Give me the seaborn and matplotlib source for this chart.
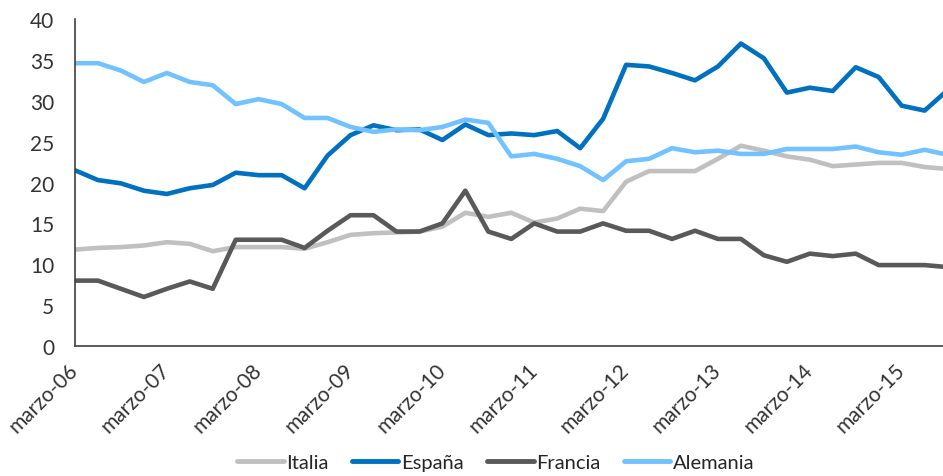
import numpy as np
import pandas as pd
import seaborn as sns
import matplotlib.pyplot as plt

# quarterly series, marzo-06 onwards (last point falls just past the right edge)
italia = [11.8, 12.0, 12.1, 12.3, 12.7, 12.5, 11.6, 12.1, 12.1, 12.1,
          11.9, 12.7, 13.6, 13.8, 13.9, 14.0, 14.6, 16.3, 15.8, 16.3,
          15.1, 15.6, 16.8, 16.5, 20.1, 21.4, 21.4, 21.4, 22.9, 24.5,
          23.9, 23.2, 22.8, 22.0, 22.2, 22.4, 22.4, 21.9, 21.65]
espana = [21.5, 20.3, 19.9, 19.0, 18.6, 19.3, 19.7, 21.2, 20.9, 20.9,
          19.3, 23.3, 25.8, 27.0, 26.4, 26.5, 25.2, 27.1, 25.8, 26.0,
          25.8, 26.3, 24.2, 27.8, 34.4, 34.2, 33.4, 32.5, 34.2, 37.0,
          35.2, 31.0, 31.6, 31.2, 34.1, 32.9, 29.4, 28.8, 31.3]
francia = [8.0, 8.0, 7.0, 6.0, 7.0, 7.9, 7.0, 13.0, 13.0, 13.0,
           12.0, 14.1, 16.0, 16.0, 14.0, 14.0, 15.0, 19.0, 14.0, 13.1,
           15.0, 14.0, 14.0, 15.0, 14.1, 14.1, 13.1, 14.1, 13.1, 13.1,
           11.1, 10.3, 11.3, 11.0, 11.3, 9.9, 9.9, 9.9, 9.65]
alemania = [34.6, 34.6, 33.7, 32.3, 33.4, 32.3, 31.9, 29.6, 30.2, 29.6,
            27.9, 27.9, 26.8, 26.2, 26.5, 26.4, 26.8, 27.7, 27.3, 23.2,
            23.5, 22.9, 22.0, 20.3, 22.6, 22.9, 24.2, 23.7, 23.9, 23.5,
            23.5, 24.1, 24.1, 24.1, 24.4, 23.7, 23.4, 24.0, 23.4]
tick_labels = ['marzo-06', 'marzo-07', 'marzo-08', 'marzo-09', 'marzo-10',
               'marzo-11', 'marzo-12', 'marzo-13', 'marzo-14', 'marzo-15']

colors = {'Italia': '#C0C0C0', 'España': '#0070C0',
          'Francia': '#595959', 'Alemania': '#72C2FF'}

n = len(italia)
df = pd.DataFrame({'t': np.arange(n), 'Italia': italia, 'España': espana,
                   'Francia': francia, 'Alemania': alemania})
df_long = df.melt(id_vars='t', var_name='pais', value_name='valor')

sns.set_style('white')
plt.rcParams['font.family'] = ['Lato', 'DejaVu Sans']

fig = plt.figure(figsize=(9.43, 4.77), dpi=100)
ax = fig.add_axes([0.0795, 0.2725, 0.9205, 0.6855])

sns.lineplot(data=df_long, x='t', y='valor', hue='pais', palette=colors,
             linewidth=3.3, ax=ax, legend=False)

ax.set_xlim(0, 37.8)
ax.set_ylim(0, 40)
ax.set_yticks(range(0, 41, 5))
ax.set_xticks(range(0, 4 * len(tick_labels), 4))
ax.set_xticklabels(tick_labels, rotation=45, ha='right', va='center',
                   rotation_mode='anchor')
ax.set_xlabel('')
ax.set_ylabel('')

sns.despine(ax=ax)
for s in ['left', 'bottom']:
    ax.spines[s].set_color('#404040')
    ax.spines[s].set_linewidth(1.2)
ax.tick_params(axis='both', which='both', direction='out', length=6,
               width=1.2, color='#404040', labelsize=15, labelcolor='#333333')
ax.tick_params(axis='y', pad=9)
ax.tick_params(axis='x', pad=9)

handles = [plt.Line2D([], [], color=c, lw=3.5) for c in colors.values()]
fig.legend(handles, list(colors.keys()), loc='center',
           bbox_to_anchor=(0.526, 0.028), ncol=4, frameon=False,
           fontsize=14.5, handlelength=2.3, columnspacing=1.15,
           handletextpad=0.15)

fig.savefig('out.png', dpi=100)
